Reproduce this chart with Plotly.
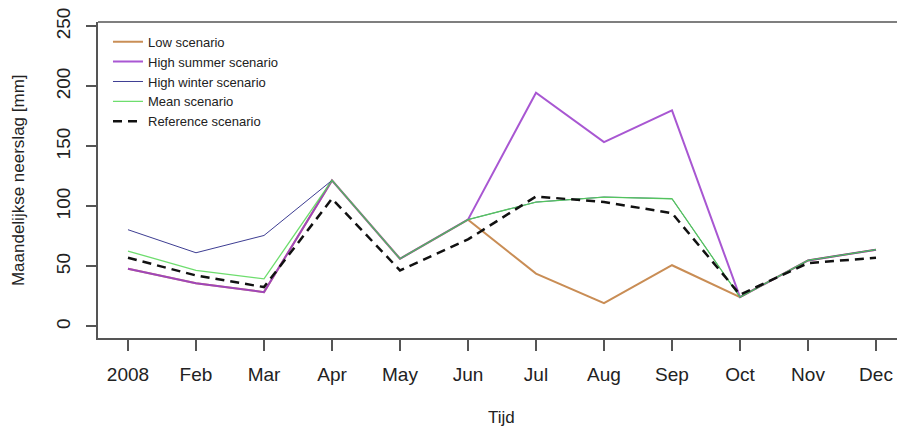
import plotly.graph_objects as go

months = ["2008", "Feb", "Mar", "Apr", "May", "Jun", "Jul", "Aug", "Sep", "Oct", "Nov", "Dec"]

low = [48, 36, 28.6, 121.7, 56.4, 89, 44, 19.5, 51, 24.4, 55, 64]
high_summer = [48, 36, 28.6, 121.7, 56.4, 89, 194.7, 153.6, 180, 24.4, 55, 64]
high_winter = [80.6, 61.4, 75.8, 121.7, 56.4, 89, 103.6, 107.8, 106.4, 24.4, 55, 64]
mean = [62.8, 46.7, 39.7, 121.7, 56.4, 89, 103.6, 107.8, 106.4, 24.4, 55, 64]
reference = [57.2, 42.5, 32.8, 106.4, 46.7, 72.5, 108.3, 103.6, 94.4, 26.5, 52.8, 57.2]

fig = go.Figure()

fig.add_trace(go.Scatter(x=months, y=low, mode="lines", name="Low scenario",
                         line=dict(color="#C07a38", width=2), opacity=0.85))
fig.add_trace(go.Scatter(x=months, y=high_summer, mode="lines", name="High summer scenario",
                         line=dict(color="#9A3ACB", width=2), opacity=0.85))
fig.add_trace(go.Scatter(x=months, y=high_winter, mode="lines", name="High winter scenario",
                         line=dict(color="#1C1C80", width=1), opacity=0.85))
fig.add_trace(go.Scatter(x=months, y=mean, mode="lines", name="Mean scenario",
                         line=dict(color="#55D855", width=1.3), opacity=0.85))
fig.add_trace(go.Scatter(x=months, y=reference, mode="lines", name="Reference scenario",
                         line=dict(color="#111111", width=2.5, dash="9px,6px")))

axis_font = dict(family="Liberation Sans, Arial, sans-serif", size=19, color="#222222")

fig.update_xaxes(type="category", range=[-0.441, 11.309], automargin=False,
                 showline=True, linecolor="#555555", linewidth=1.5,
                 ticks="outside", ticklen=11, tickcolor="#555555", tickwidth=1.5,
                 ticklabelstandoff=7,
                 showgrid=False, zeroline=False, tickfont=axis_font)
fig.update_yaxes(range=[-9.6, 253.6], tickvals=[0, 50, 100, 150, 200, 250], automargin=False,
                 showline=True, linecolor="#555555", linewidth=1.5,
                 ticks="outside", ticklen=10, tickcolor="#555555", tickwidth=1.5,
                 tickangle=-90, ticklabelstandoff=9,
                 showgrid=False, zeroline=False, tickfont=axis_font)

fig.add_shape(type="line", xref="paper", yref="paper", x0=0, x1=1, y0=1, y1=1,
              line=dict(color="#555555", width=1.5))

fig.add_annotation(text="Maandelijkse neerslag [mm]", xref="paper", yref="paper",
                   x=-0.1, y=0.5, textangle=-90, showarrow=False,
                   xanchor="center", yanchor="middle",
                   font=dict(family="Liberation Sans, Arial, sans-serif", size=17, color="#222222"))
fig.add_annotation(text="Tijd", xref="paper", yref="paper",
                   x=0.5056, y=-0.253, showarrow=False,
                   xanchor="center", yanchor="middle",
                   font=dict(family="Liberation Sans, Arial, sans-serif", size=17, color="#222222"))

fig.update_layout(
    width=897, height=432,
    margin=dict(l=98, r=0, t=22, b=94, autoexpand=False),
    paper_bgcolor="white", plot_bgcolor="white",
    showlegend=True,
    legend=dict(x=0.0125, y=0.985, xanchor="left", yanchor="top",
                bgcolor="rgba(0,0,0,0)", borderwidth=0, tracegroupgap=0,
                font=dict(family="Liberation Sans, Arial, sans-serif", size=13, color="#222222")),
)

fig.write_html("out.html", config={"displayModeBar": False},
               post_script="document.body.style.margin='0';")
